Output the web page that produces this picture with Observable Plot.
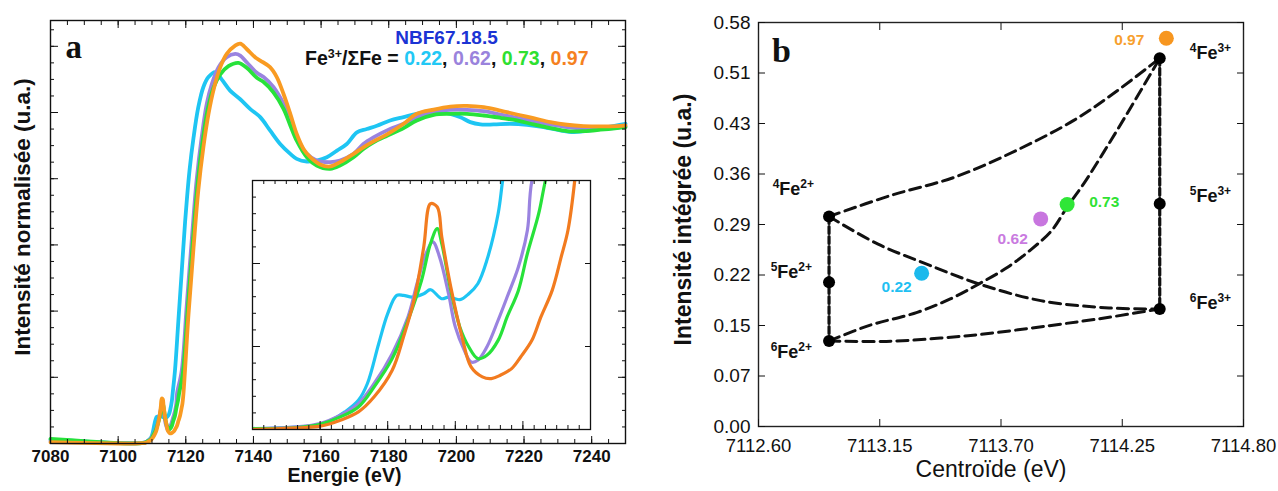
<!DOCTYPE html>
<html><head><meta charset="utf-8">
<script src="https://cdn.jsdelivr.net/npm/d3@7"></script>
<script src="https://cdn.jsdelivr.net/npm/@observablehq/plot@0.6"></script>
<style>
html,body{margin:0;padding:0;background:#fff;}
#wrap{position:relative;width:1278px;height:491px;overflow:hidden;font-family:"Liberation Sans",Arial,sans-serif;}
#pa{position:absolute;left:0;top:0;width:640px;height:491px;}
#inset{position:absolute;left:250px;top:178px;width:342px;height:253px;}
#pb{position:absolute;left:640px;top:0;width:638px;height:491px;}
#legend{position:absolute;left:305px;top:47px;font-weight:bold;font-size:19.5px;line-height:22px;white-space:nowrap;color:#111;}
#legend sup{font-size:12.5px;line-height:0;vertical-align:baseline;position:relative;top:-7px;}
</style>
</head><body>
<div id="wrap"><div id="pa"></div><div id="inset"></div><div id="pb"></div><div id="legend"></div></div>
<script>
// ===================== Panel a : XANES spectra =====================
const ratioLabels = ["0.22", "0.62", "0.73", "0.97"];
const sampleName = "NBF67.18.5";
const mainColors = ["#1ec5f3", "#9a83e0", "#27e23a", "#f99b22"];
const insetColors = ["#1ec5f3", "#9a83e0", "#27e23a", "#f27b1f"];
const legendColors = ["#22c8f5", "#9a83dc", "#2ee030", "#f5811f"];

const cyanE = [7080,7090,7100,7105,7106.3,7107,7107.9,7108.5,7109.1,7109.7,7110.1,7110.6,7111.0,7111.4,7111.7,7112.1,7112.6,7112.9,7113.4,7113.7,7114.2,7114.6,7115.0,7115.4,7115.9,7116.1,7116.8,7117.8,7118.8,7119.8,7121.1,7122.3,7123.7,7125.2,7126.7,7128.7,7130.6,7133.1,7136.1,7139.0,7142.0,7144.9,7147.9,7150.9,7152.8,7155.8,7158.7,7161.7,7164.7,7167.6,7170.6,7173.5,7176.5,7180.4,7184.4,7188.3,7193.3,7198.2,7201.2,7204.1,7207.1,7211,7216,7220.9,7225.8,7230.7,7234.7,7239.6,7244.5,7250];
const cyanI = [0.012,0.006,0.001,0.0006,0.001,0.0016,0.0026,0.0056,0.0106,0.0176,0.0277,0.0517,0.0698,0.0808,0.0808,0.0798,0.0818,0.0842,0.0788,0.0798,0.0782,0.0818,0.0878,0.1019,0.130,0.150,0.22,0.37,0.52,0.67,0.825,0.925,1.016,1.077,1.107,1.122,1.10,1.066,1.04,1.011,0.986,0.946,0.905,0.875,0.86,0.852,0.855,0.865,0.885,0.905,0.94,0.95,0.96,0.976,0.986,0.996,1.004,0.996,0.986,0.971,0.964,0.964,0.966,0.963,0.956,0.946,0.941,0.946,0.956,0.966];

const violetE = [7080,7090,7100,7105,7107.0,7108.0,7108.9,7109.7,7110.4,7111.2,7111.9,7112.3,7112.7,7113.0,7113.3,7113.7,7114.0,7114.4,7114.7,7115.0,7115.4,7115.9,7116.3,7116.8,7117.2,7117.4,7118.8,7120.3,7121.8,7123.2,7124.7,7126.2,7127.7,7129.7,7132.1,7134.6,7136.1,7138.0,7141.0,7143.0,7145.9,7148.9,7150.9,7152.8,7155.8,7158.7,7162.7,7165.6,7169.6,7172.5,7175.5,7179.5,7184.4,7188.3,7193.3,7198.2,7203.1,7208.1,7213.0,7217.9,7222.8,7227.8,7232.7,7237.6,7242.6,7247.5,7250];
const violetI = [0.008,0.004,0.001,0.0005,0.0016,0.0036,0.0086,0.0156,0.0277,0.0457,0.0678,0.0878,0.106,0.113,0.104,0.0818,0.0618,0.0477,0.0407,0.0417,0.0497,0.0658,0.0798,0.0979,0.12,0.15,0.22,0.42,0.62,0.795,0.925,1.026,1.086,1.137,1.167,1.177,1.172,1.152,1.12,1.107,1.077,1.026,0.976,0.925,0.875,0.855,0.85,0.855,0.875,0.905,0.925,0.946,0.966,0.985,1.003,1.008,1.008,1.004,0.994,0.984,0.974,0.964,0.956,0.951,0.951,0.954,0.958];

const greenE = [7080,7090,7100,7105,7107.0,7108.0,7108.9,7109.7,7110.4,7111.2,7111.9,7112.5,7112.9,7113.2,7113.4,7113.8,7114.2,7114.6,7115.0,7115.4,7115.9,7116.3,7116.8,7117.2,7117.7,7118.0,7119.1,7120.6,7122.1,7123.5,7125.0,7126.5,7128.2,7130.2,7132.6,7135.6,7138.0,7141.0,7143.0,7145.9,7148.9,7150.9,7152.8,7155.8,7158.7,7162.7,7165.6,7169.6,7172.5,7175.5,7179.5,7184.4,7188.3,7193.3,7198.2,7203.1,7208.1,7213.0,7217.9,7222.8,7227.8,7232.7,7237.6,7242.6,7247.5,7250];
const greenI = [0.014,0.007,0.001,0.0005,0.0012,0.0032,0.0076,0.0136,0.0257,0.0427,0.0658,0.0898,0.112,0.121,0.112,0.0838,0.0618,0.0497,0.0427,0.0447,0.0537,0.0678,0.0838,0.106,0.130,0.150,0.21,0.41,0.613,0.785,0.915,1.01,1.075,1.115,1.14,1.15,1.135,1.105,1.092,1.061,1.011,0.961,0.915,0.865,0.84,0.83,0.84,0.865,0.89,0.91,0.93,0.953,0.976,0.993,0.996,0.996,0.991,0.984,0.976,0.964,0.953,0.944,0.944,0.948,0.953,0.956];

const orangeE = [7080,7090,7100,7105,7107.0,7108.0,7108.9,7109.7,7110.4,7111.2,7111.7,7112.2,7112.6,7112.9,7113.2,7113.4,7113.8,7114.3,7114.7,7115.2,7115.6,7116.0,7116.5,7116.9,7117.4,7117.8,7118.3,7118.7,7119.0,7119.3,7120.8,7122.3,7123.7,7125.2,7126.7,7128.4,7130.2,7132.1,7134.6,7136.1,7138.0,7140.5,7142.0,7144.9,7146.9,7148.9,7150.9,7152.8,7154.8,7156.8,7159.7,7162.7,7165.6,7169.6,7172.5,7175.5,7179.5,7184.4,7188.3,7193.3,7198.2,7203.1,7208.1,7213.0,7217.9,7222.8,7227.8,7232.7,7237.6,7242.6,7247.5,7250];
const orangeI = [0.004,0.002,0.0,0.0,0.001,0.002,0.0056,0.0106,0.0197,0.0357,0.0557,0.0798,0.11,0.136,0.134,0.116,0.0858,0.0557,0.0377,0.0317,0.0307,0.0327,0.0367,0.0437,0.0537,0.0678,0.0838,0.104,0.12,0.15,0.39,0.593,0.765,0.895,0.995,1.076,1.137,1.177,1.202,1.208,1.192,1.167,1.157,1.137,1.107,1.056,0.996,0.935,0.89,0.865,0.843,0.837,0.85,0.875,0.895,0.913,0.934,0.966,0.996,1.009,1.018,1.02,1.016,1.006,0.994,0.983,0.971,0.963,0.959,0.958,0.959,0.961];

const aXTickLabels = [7080, 7100, 7120, 7140, 7160, 7180, 7200, 7220, 7240];

// ===================== Panel b : centroid vs intensity =====================
const speciesNames = ["4Fe2+", "5Fe2+", "6Fe2+", "4Fe3+", "5Fe3+", "6Fe3+"];
const speciesX = [7112.92, 7112.92, 7112.92, 7114.42, 7114.42, 7114.42];
const speciesY = [0.3015, 0.207, 0.1228, 0.5286, 0.3197, 0.1688];

const sampleX = [7113.34, 7113.88, 7114.00, 7114.45];
const sampleY = [0.220, 0.298, 0.3188, 0.5574];
const sampleColors = ["#1cb9ec", "#c876df", "#2fe637", "#f7961f"];
const sampleLabelColors = ["#1fc0f2", "#c97ae0", "#2fe233", "#f7a02e"];

// mixing curves
const mixAX = [7112.92, 7113.20, 7113.49, 7113.77, 7114.03, 7114.21, 7114.42];
const mixAY = [0.3015, 0.3317, 0.358, 0.3964, 0.4395, 0.478, 0.5286];
const mixBX = [7112.92, 7113.14, 7113.36, 7113.60, 7113.88, 7114.19, 7114.42];
const mixBY = [0.3015, 0.2622, 0.2335, 0.2047, 0.1807, 0.1702, 0.1688];
const mixCX = [7112.92, 7113.10, 7113.32, 7113.47, 7113.60, 7113.73, 7113.84, 7113.93, 7114.00, 7114.08, 7114.18, 7114.29, 7114.42];
const mixCY = [0.1228, 0.1448, 0.1639, 0.1832, 0.2047, 0.2286, 0.2551, 0.2814, 0.3149, 0.3508, 0.4011, 0.4587, 0.5286];
const mixDX = [7112.92, 7113.18, 7113.55, 7113.92, 7114.19, 7114.42];
const mixDY = [0.1228, 0.1222, 0.1304, 0.1448, 0.1568, 0.1688];

const bXTicks = [7112.60, 7113.15, 7113.70, 7114.25, 7114.80];
const bYTicks = [0, 0.0725, 0.145, 0.2175, 0.29, 0.3625, 0.435, 0.5075, 0.58];
const bYTickLabels = ["0.00", "0.07", "0.15", "0.22", "0.29", "0.36", "0.43", "0.51", "0.58"];

// ===================== helpers =====================
const recs = (X, Y) => X.map((x, i) => ({x, y: Y[i]}));
const seriesE = [cyanE, violetE, greenE, orangeE];
const seriesI = [cyanI, violetI, greenI, orangeI];
const FONT = "Liberation Sans, Arial, sans-serif";

// ---------- Panel a ----------
const aMinorX = d3.range(7080, 7251, 5);
const aMinorY = d3.range(0, 1.27, 0.05);
const aMajorY = d3.range(0, 1.27, 0.2);

const pa = Plot.plot({
  width: 640, height: 491,
  marginLeft: 50, marginRight: 15, marginTop: 20, marginBottom: 48,
  x: {domain: [7080, 7250]},
  y: {domain: [0, 1.278]},
  style: {background: "transparent", overflow: "visible", fontFamily: FONT, color: "#111"},
  marks: [
    ...seriesE.map((E, k) => Plot.line(recs(E, seriesI[k]), {x: "x", y: "y", stroke: mainColors[k], strokeWidth: 3.8, curve: "catmull-rom", strokeLinejoin: "round", strokeLinecap: "round"})),
    Plot.frame({stroke: "#111", strokeWidth: 1.4}),
    Plot.axisX({anchor: "bottom", ticks: aMinorX, tickSize: -4, fill: "none", label: null}),
    Plot.axisX({anchor: "top", ticks: aMinorX, tickSize: -4, fill: "none", label: null}),
    Plot.axisX({anchor: "bottom", ticks: aXTickLabels, tickSize: -7, fill: "none", label: null}),
    Plot.axisX({anchor: "top", ticks: aXTickLabels, tickSize: -7, fill: "none", label: null}),
    Plot.axisY({anchor: "left", ticks: aMinorY, tickSize: -4, fill: "none", label: null}),
    Plot.axisY({anchor: "right", ticks: aMinorY, tickSize: -4, fill: "none", label: null}),
    Plot.axisY({anchor: "left", ticks: aMajorY, tickSize: -8, fill: "none", label: null}),
    Plot.axisY({anchor: "right", ticks: aMajorY, tickSize: -8, fill: "none", label: null}),
    Plot.axisX({anchor: "bottom", ticks: aXTickLabels, tickSize: 0, tickPadding: 6, tickFormat: d => String(d), fontSize: 17, fontWeight: "bold", label: null}),
    Plot.text([0], {frameAnchor: "left", dx: -28, dy: -15, rotate: -90, textAnchor: "middle", text: () => "Intensité normalisée (u.a.)", fontSize: 22.5, fontWeight: "bold", fill: "#111"}),
    Plot.text([0], {frameAnchor: "bottom", dx: 6.5, dy: 38.5, text: () => "Energie (eV)", fontSize: 19.5, fontWeight: "bold", fill: "#111"}),
    Plot.text([0], {frameAnchor: "top-left", dx: 15, dy: 37, lineAnchor: "bottom", textAnchor: "start", text: () => "a", fontFamily: "Liberation Serif, Times New Roman, serif", fontSize: 33, fontWeight: "bold", fill: "#111"}),
    Plot.text([0], {frameAnchor: "top-left", dx: 396, dy: 23.5, lineAnchor: "bottom", textAnchor: "middle", text: () => sampleName, fontSize: 19, fontWeight: "bold", fill: "#1b34d4"})
  ]
});
document.getElementById("pa").appendChild(pa);

// ---------- Inset ----------
const iMinorX = d3.range(7105, 7120.01, 0.5);
const iMajorX = d3.range(7105, 7120.01, 3);
const iMinorY = d3.range(0, 0.1501, 0.01);
const iMajorY = d3.range(0, 0.1501, 0.05);
const ins = Plot.plot({
  width: 342, height: 253,
  marginLeft: 2, marginRight: 2, marginTop: 2, marginBottom: 2,
  x: {domain: [7105, 7120]},
  y: {domain: [0, 0.15]},
  style: {background: "white", overflow: "visible", fontFamily: FONT, color: "#111"},
  marks: [
    ...seriesE.map((E, k) => Plot.line(recs(E, seriesI[k]).filter(d => d.x <= 7122), {x: "x", y: "y", stroke: insetColors[k], strokeWidth: 3.2, curve: "catmull-rom", clip: true, strokeLinejoin: "round"})),
    Plot.frame({stroke: "#111", strokeWidth: 1.3}),
    Plot.axisX({anchor: "bottom", ticks: iMinorX, tickSize: -4, fill: "none", label: null}),
    Plot.axisX({anchor: "bottom", ticks: iMajorX, tickSize: -8, fill: "none", label: null}),
    Plot.axisX({anchor: "top", ticks: iMinorX, tickSize: -3, fill: "none", label: null}),
    Plot.axisY({anchor: "left", ticks: iMinorY, tickSize: -4, fill: "none", label: null}),
    Plot.axisY({anchor: "left", ticks: iMajorY, tickSize: -8, fill: "none", label: null}),
    Plot.axisY({anchor: "right", ticks: iMajorY, tickSize: -6, fill: "none", label: null})
  ]
});
document.getElementById("inset").appendChild(ins);

// ---------- Legend (panel a) ----------
document.getElementById("legend").innerHTML =
  "Fe<sup>3+</sup>/ΣFe = " + ratioLabels.map((r, k) => `<span style="color:${legendColors[k]}">${r}</span>`).join(", ");

// ---------- Panel b ----------
const speciesRecs = speciesNames.map((n, i) => ({n, x: speciesX[i], y: speciesY[i]}));
const sampleRecs = ratioLabels.map((n, i) => ({n, x: sampleX[i], y: sampleY[i], c: sampleColors[i], lc: sampleLabelColors[i]}));
const speciesStyle = [
  {textAnchor: "end", dx: -15, dy: -27},
  {textAnchor: "end", dx: -17, dy: -10},
  {textAnchor: "end", dx: -17, dy: 11},
  {textAnchor: "start", dx: 30, dy: -5},
  {textAnchor: "start", dx: 30, dy: -8},
  {textAnchor: "start", dx: 30, dy: -6}
];
const sampleStyle = [
  {textAnchor: "middle", dx: -25, dy: 14},
  {textAnchor: "middle", dx: -28, dy: 20},
  {textAnchor: "start", dx: 22, dy: -2},
  {textAnchor: "end", dx: -22, dy: 2}
];
const dashCurve = {x: "x", y: "y", stroke: "#111", strokeWidth: 3, strokeDasharray: "11,6", curve: "catmull-rom"};
const pb = Plot.plot({
  width: 638, height: 491,
  marginLeft: 118, marginRight: 35, marginTop: 22, marginBottom: 65,
  x: {domain: [7112.6, 7114.8]},
  y: {domain: [0, 0.58]},
  color: {type: "identity"},
  style: {background: "transparent", overflow: "visible", fontFamily: FONT, color: "#111"},
  marks: [
    Plot.frame({stroke: "#222", strokeWidth: 1.4}),
    Plot.axisX({anchor: "bottom", ticks: bXTicks, tickSize: -7, fill: "none", label: null}),
    Plot.axisX({anchor: "top", ticks: bXTicks, tickSize: -7, fill: "none", label: null}),
    Plot.axisY({anchor: "left", ticks: bYTicks, tickSize: -7, fill: "none", label: null}),
    Plot.axisY({anchor: "right", ticks: bYTicks, tickSize: -7, fill: "none", label: null}),
    Plot.axisX({anchor: "bottom", ticks: bXTicks, tickSize: 0, tickPadding: 12, tickFormat: d => d.toFixed(2), fontSize: 18.5, label: null}),
    Plot.axisY({anchor: "left", ticks: bYTicks, tickSize: 0, tickPadding: 8, tickFormat: d => bYTickLabels[bYTicks.indexOf(d)], fontSize: 19, label: null}),
    Plot.line(recs(mixAX, mixAY), dashCurve),
    Plot.line(recs(mixBX, mixBY), dashCurve),
    Plot.line(recs(mixCX, mixCY), dashCurve),
    Plot.line(recs(mixDX, mixDY), dashCurve),
    Plot.line(speciesRecs.slice(0, 3), {x: "x", y: "y", stroke: "#111", strokeWidth: 3.2, strokeDasharray: "7,3"}),
    Plot.line(speciesRecs.slice(3), {x: "x", y: "y", stroke: "#111", strokeWidth: 3.2, strokeDasharray: "7,3"}),
    Plot.dot(speciesRecs, {x: "x", y: "y", r: 6, fill: "#000"}),
    Plot.dot(sampleRecs, {x: "x", y: "y", r: 7.5, fill: "c"}),
    ...sampleRecs.map((d, i) => Plot.text([d], {x: "x", y: "y", text: "n", fill: "lc", fontSize: 15.5, fontWeight: "bold", ...sampleStyle[i]})),
    ...speciesRecs.map((d, i) => Plot.text([d], {x: "x", y: "y", text: "n", fill: "#111", fontSize: 18, fontWeight: "bold", className: "species", ...speciesStyle[i]})),
    Plot.text([0], {frameAnchor: "top-left", dx: 23, dy: 39, lineAnchor: "bottom", textAnchor: "middle", text: () => "b", fontFamily: "Liberation Serif, Times New Roman, serif", fontSize: 34, fontWeight: "bold", fill: "#111"}),
    Plot.text([0], {frameAnchor: "left", dx: -75, dy: -5, rotate: -90, textAnchor: "middle", text: () => "Intensité intégrée (u.a.)", fontSize: 23, fontWeight: "bold", fill: "#111"}),
    Plot.text([0], {frameAnchor: "bottom", dx: -10, dy: 50, text: () => "Centroïde (eV)", fontSize: 23, fill: "#111"})
  ]
});
// superscripts for the species labels
pb.querySelectorAll("g.species text").forEach(t => {
  const m = t.textContent.match(/^(\d)Fe(\d\+)$/);
  if (!m) return;
  t.textContent = "";
  const add = (s, fs, dy) => {
    const ts = document.createElementNS("http://www.w3.org/2000/svg", "tspan");
    ts.textContent = s;
    ts.setAttribute("font-size", fs);
    if (dy) ts.setAttribute("dy", dy);
    t.appendChild(ts);
  };
  add(m[1], 12, -7); add("Fe", 18, 7); add(m[2], 12, -7);
});
document.getElementById("pb").appendChild(pb);
</script>
</body></html>
